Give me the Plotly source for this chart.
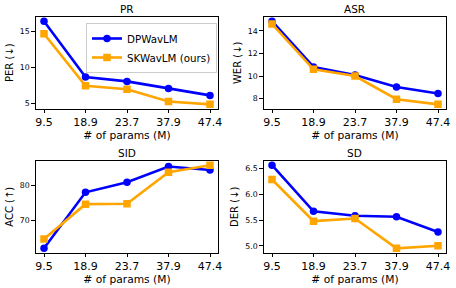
import numpy as np
import plotly.graph_objects as go

params = ["9.5", "18.9", "23.7", "37.9", "47.4"]
tasks = ["PR", "ASR", "SID", "SD"]
ylabels = ["PER (↓)", "WER (↓)", "ACC (↑)", "DER (↓)"]

dp_pr = [16.45, 8.65, 8.05, 7.05, 6.1]
sk_pr = [14.7, 7.45, 6.95, 5.25, 4.85]
dp_asr = [14.85, 10.8, 10.1, 9.03, 8.45]
sk_asr = [14.6, 10.6, 10.0, 7.95, 7.5]
dp_sid = [61.9, 78.0, 80.9, 85.4, 84.4]
sk_sid = [64.6, 74.6, 74.7, 83.75, 85.8]
dp_sd = [6.57, 5.67, 5.585, 5.565, 5.27]
sk_sd = [6.29, 5.48, 5.53, 4.95, 5.0]

dp_all = [dp_pr, dp_asr, dp_sid, dp_sd]
sk_all = [sk_pr, sk_asr, sk_sid, sk_sd]

yticks = [[5, 10, 15], [8, 10, 12, 14], [70, 80], [5.0, 5.5, 6.0, 6.5]]
ytickfmt = ["d", "d", "d", ".1f"]

W, H = 456, 288
xdoms = [[35.7 / W, 218.3 / W], [263.7 / W, 446.3 / W]]
ydoms = [[1 - 108.5 / H, 1 - 17 / H], [1 - 252.5 / H, 1 - 161 / H]]

BLUE = "#0000ff"
ORANGE = "#ffa500"
FONT = "DejaVu Sans"

fig = go.Figure()
x = list(range(len(params)))

for i in range(4):
    r, c = divmod(i, 2)
    xa = "x" if i == 0 else f"x{i+1}"
    ya = "y" if i == 0 else f"y{i+1}"
    fig.add_trace(go.Scatter(
        x=x, y=dp_all[i], xaxis=xa, yaxis=ya, mode="lines+markers",
        name="DPWavLM", showlegend=(i == 0), legendgroup="dp",
        line=dict(color=BLUE, width=2.6),
        marker=dict(symbol="circle", size=7.5, color=BLUE)))
    fig.add_trace(go.Scatter(
        x=x, y=sk_all[i], xaxis=xa, yaxis=ya, mode="lines+markers",
        name="SKWavLM (ours)", showlegend=(i == 0), legendgroup="sk",
        line=dict(color=ORANGE, width=2.6),
        marker=dict(symbol="square", size=7.5, color=ORANGE)))

    allv = np.array(dp_all[i] + sk_all[i])
    lo, hi = allv.min(), allv.max()
    pad = 0.05 * (hi - lo)
    axkey_x = "xaxis" if i == 0 else f"xaxis{i+1}"
    axkey_y = "yaxis" if i == 0 else f"yaxis{i+1}"
    fig.layout[axkey_x] = dict(
        domain=xdoms[c], anchor=ya, range=[-0.2, 4.2],
        tickmode="array", tickvals=x, ticktext=params,
        ticks="outside", ticklen=3.5, tickwidth=0.8, tickcolor="black",
        showline=True, linecolor="black", linewidth=0.8, mirror=True,
        showgrid=False, zeroline=False,
        tickfont=dict(family=FONT, size=11, color="black"),
        title=dict(text="# of params (M)", standoff=2,
                   font=dict(family=FONT, size=10.7, color="black")),
        automargin=False)
    fig.layout[axkey_y] = dict(
        domain=ydoms[r], anchor=xa, range=[lo - pad, hi + pad],
        tickmode="array", tickvals=yticks[i], tickformat=ytickfmt[i],
        ticks="outside", ticklen=3.5, tickwidth=0.8, tickcolor="black",
        showline=True, linecolor="black", linewidth=0.8, mirror=True,
        showgrid=False, zeroline=False,
        tickfont=dict(family=FONT, size=7.8, color="black"),
        title=dict(text=ylabels[i], standoff=4,
                   font=dict(family=FONT, size=10, color="black")),
        automargin=False)
    fig.add_annotation(
        text=tasks[i], xref="paper", yref="paper",
        x=(xdoms[c][0] + xdoms[c][1]) / 2, y=ydoms[r][1],
        xanchor="center", yanchor="bottom", yshift=0, showarrow=False,
        font=dict(family=FONT, size=10.5, color="black"))

fig.update_layout(
    width=W, height=H,
    margin=dict(l=0, r=0, t=0, b=0),
    paper_bgcolor="white", plot_bgcolor="white",
    font=dict(family=FONT, color="black"),
    legend=dict(
        x=217 / W, y=1 - 23 / H, xanchor="right", yanchor="top",
        xref="paper", yref="paper",
        bgcolor="white", bordercolor="#cccccc", borderwidth=1,
        font=dict(family=FONT, size=10.3, color="black"),
        itemwidth=30, tracegroupgap=0),
)

fig.write_html("out.html", config={"displayModeBar": False},
               post_script="document.body.style.margin='0';")
